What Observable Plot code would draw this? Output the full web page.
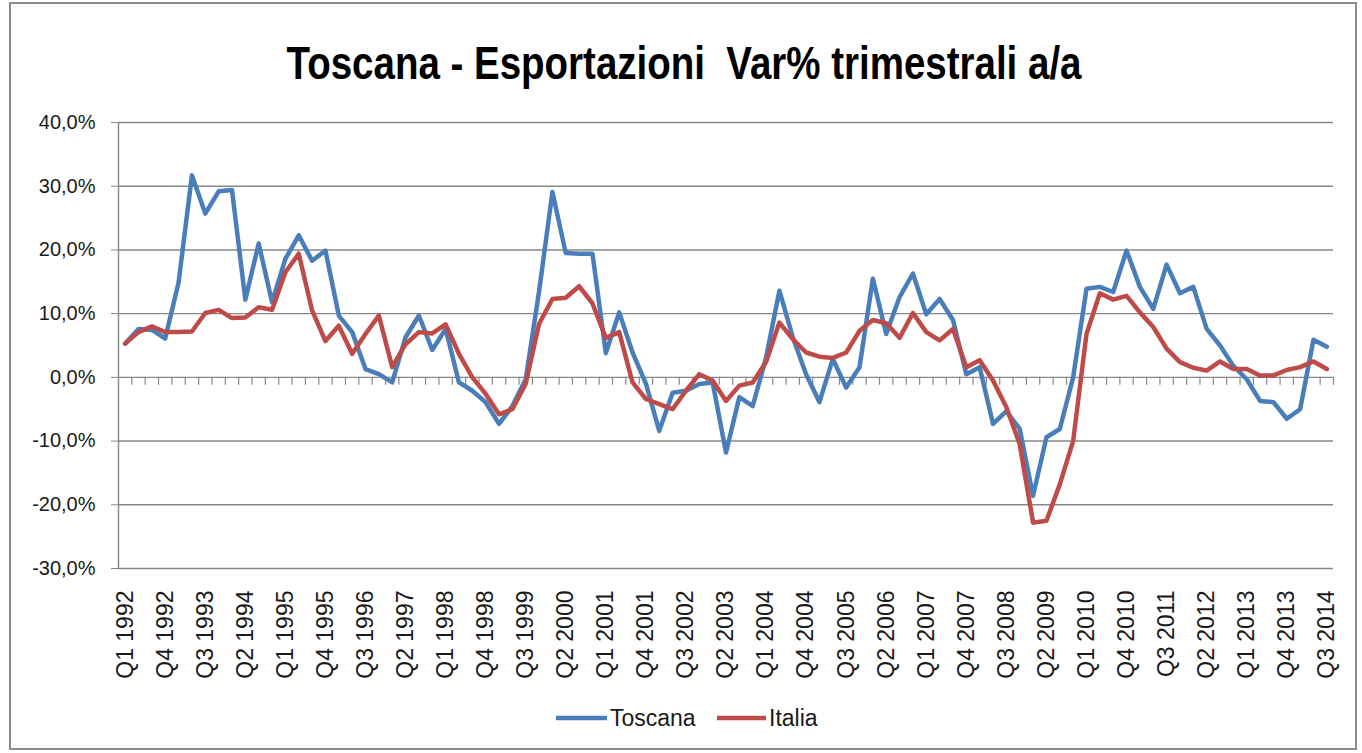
<!DOCTYPE html>
<html><head><meta charset="utf-8">
<script src="https://cdn.jsdelivr.net/npm/d3@7"></script>
<script src="https://cdn.jsdelivr.net/npm/@observablehq/plot@0.6"></script>
<style>
body{margin:0;background:#fff;}
#wrap{position:relative;width:1362px;height:753px;overflow:hidden;font-family:"Liberation Sans",sans-serif;}
#frame{position:absolute;left:9px;top:2px;width:1348px;height:748px;border:2px solid #8c8c8c;box-sizing:border-box;}
#chart,#title,#legend{position:absolute;left:0;}
#chart{top:0;}
#title{top:0;}
#legend{top:690px;}
</style></head>
<body>
<div id="wrap">
  <div id="frame"></div>
  <div id="chart"></div>
  <svg id="title" width="1362" height="110">
    <text x="684" y="79" text-anchor="middle" font-size="46" font-weight="bold" fill="#000" style="white-space:pre" textLength="795" lengthAdjust="spacingAndGlyphs">Toscana - Esportazioni  Var% trimestrali a/a</text>
  </svg>
  <svg id="legend" width="1362" height="60"></svg>
</div>
<script>
// Quarter labels shown on the axis (every 3rd quarter)
const tickLabels = ["Q1 1992","Q4 1992","Q3 1993","Q2 1994","Q1 1995","Q4 1995","Q3 1996","Q2 1997","Q1 1998","Q4 1998","Q3 1999","Q2 2000","Q1 2001","Q4 2001","Q3 2002","Q2 2003","Q1 2004","Q4 2004","Q3 2005","Q2 2006","Q1 2007","Q4 2007","Q3 2008","Q2 2009","Q1 2010","Q4 2010","Q3 2011","Q2 2012","Q1 2013","Q4 2013","Q3 2014"];
const seriesNames = ["Toscana","Italia"];
const seriesColors = ["#4A7EBB","#BE4B48"];
// Year-on-year % change, Q1 1992 .. Q3 2014 (91 quarters)
const toscana = [5.3,7.6,7.45,6.1,14.9,31.7,25.7,29.2,29.4,12.2,
  21.0,11.8,18.6,22.3,18.3,19.9,9.7,7.1,1.3,0.5,
  -0.8,6.3,9.7,4.3,7.6,-0.8,-2.1,-3.9,-7.3,-4.5,
  -0.3,13.5,29.1,19.5,19.4,19.4,3.8,10.2,3.9,-1.0,
  -8.4,-2.4,-2.1,-1.05,-0.8,-11.8,-3.1,-4.5,3.1,13.6,
  6.3,0.5,-3.9,2.9,-1.6,1.6,15.5,6.8,12.6,16.3,
  9.9,12.3,9.0,0.5,1.6,-7.3,-5.3,-8.1,-18.6,-9.4,
  -8.1,0.0,13.9,14.2,13.4,19.9,14.2,10.75,17.7,13.2,
  14.2,7.6,5.0,1.8,-0.3,-3.7,-3.9,-6.5,-5.0,5.9,
  4.8];
const italia = [5.3,7.1,8.0,7.1,7.1,7.2,10.1,10.6,9.3,9.4,
  11.0,10.6,16.5,19.4,10.5,5.7,8.1,3.7,6.8,9.7,
  1.6,5.2,7.1,6.9,8.3,3.7,0.0,-2.6,-5.8,-5.0,
  -1.0,8.4,12.3,12.5,14.3,11.6,6.2,7.1,-0.8,-3.4,
  -4.2,-5.0,-2.1,0.5,-0.5,-3.7,-1.3,-0.8,2.4,8.6,
  6.0,3.9,3.25,3.05,3.9,7.3,9.0,8.5,6.2,10.1,
  7.1,5.8,7.6,1.6,2.7,-0.5,-4.7,-10.5,-22.8,-22.5,
  -16.8,-10.0,6.8,13.2,12.2,12.8,10.2,7.9,4.5,2.4,
  1.5,1.05,2.5,1.3,1.3,0.3,0.3,1.15,1.6,2.5,
  1.3];
const yTicks = [-30,-20,-10,0,10,20,30,40];

const rows = toscana.map((v,i)=>({i, toscana:v, italia:italia[i]}));
const tickIdx = tickLabels.map((_,k)=>k*3);
const bounds = d3.range(toscana.length).map(i=>i+0.5);
const fmt = d => d.toFixed(1).replace(".", ",") + "%";

const chart = Plot.plot({
  width:1362, height:753,
  marginLeft:118, marginRight:29, marginTop:122, marginBottom:185,
  style:{fontFamily:'"Liberation Sans",sans-serif', background:"transparent", color:"#1a1a1a"},
  x:{type:"linear", domain:[-0.5, toscana.length-0.5], axis:null},
  y:{domain:[-30,40], axis:null},
  marks:[
    Plot.ruleY(yTicks,{stroke:"#878787", strokeWidth:1.4}),
    Plot.ruleX([-0.5],{stroke:"#878787", strokeWidth:1.4}),
    Plot.ruleX(bounds,{y1:0, y2:-1.25, stroke:"#878787", strokeWidth:1.2}),
    Plot.axisY(yTicks,{label:null, tickSize:7, tickPadding:16, tickFormat:fmt, fontSize:20, stroke:"#878787", fill:"#1a1a1a"}),
    Plot.axisX(tickIdx,{label:null, anchor:"bottom", tickSize:0, tickPadding:22, tickRotate:-90, tickFormat:i=>tickLabels[i/3], fontSize:23, fill:"#1a1a1a"}),
    Plot.line(rows,{x:"i", y:"toscana", stroke:seriesColors[0], strokeWidth:4.5, strokeLinejoin:"round"}),
    Plot.line(rows,{x:"i", y:"italia", stroke:seriesColors[1], strokeWidth:4.5, strokeLinejoin:"round"})
  ]
});
document.getElementById("chart").appendChild(chart);

// legend
const lg = d3.select("#legend");
const items = [{x0:556,x1:607,tx:610},{x0:717,x1:766,tx:769}];
items.forEach((it,k)=>{
  lg.append("line").attr("x1",it.x0).attr("x2",it.x1).attr("y1",28).attr("y2",28)
    .attr("stroke",seriesColors[k]).attr("stroke-width",4.5);
  lg.append("text").attr("x",it.tx).attr("y",28).attr("dy","0.35em")
    .attr("font-size",23).attr("fill","#1a1a1a").text(seriesNames[k]);
});
</script>
</body></html>
